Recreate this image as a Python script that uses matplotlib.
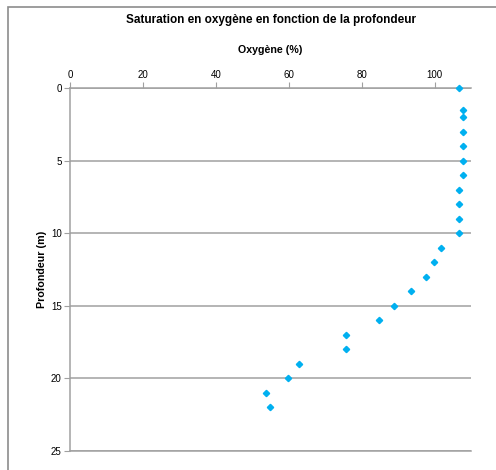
import matplotlib.pyplot as plt
from matplotlib.patches import Rectangle

# Données
profondeur = [0, 1.5, 2, 3, 4, 5, 6, 7, 8, 9, 10, 11, 12, 13, 14, 15, 16, 17, 18, 19, 20, 21, 22]
oxygene = [106.6, 107.7, 107.7, 107.7, 107.7, 107.7, 107.7, 106.6, 106.6, 106.6, 106.6,
           101.7, 99.8, 97.6, 93.6, 88.8, 84.7, 75.8, 75.8, 62.8, 59.8, 53.9, 54.8]
x_ticks = [0, 20, 40, 60, 80, 100]
y_ticks = [0, 5, 10, 15, 20, 25]

plt.rcParams['font.family'] = ['Liberation Sans', 'DejaVu Sans']
gris = '#a0a0a0'

W, H = 496, 470
fig = plt.figure(figsize=(W / 100, H / 100), dpi=100)
ax = fig.add_axes([70 / W, 1 - 451 / H, (471 - 70) / W, (451 - 88) / H])

ax.plot(oxygene, profondeur, linestyle='none', marker='D', markersize=3.2,
        color='#00b0f0', clip_on=False, zorder=3)

ax.set_xlim(0, 110)
ax.set_ylim(25, 0)
ax.set_xticks(x_ticks)
ax.set_yticks(y_ticks)
ax.xaxis.tick_top()
ax.xaxis.set_label_position('top')
ax.tick_params(axis='both', labelsize=7, color=gris, length=4, width=0.8, pad=2)

ax.yaxis.grid(True, color=gris, linewidth=1.1)
ax.set_axisbelow(True)
ax.spines['right'].set_visible(False)
for s in ['left', 'top', 'bottom']:
    ax.spines[s].set_color(gris)
    ax.spines[s].set_linewidth(1.1)

ax.set_xlabel("Oxygène (%)", fontsize=7.7, fontweight='bold', labelpad=12)
ax.set_ylabel("Profondeur (m)", fontsize=7.7, fontweight='bold')
ax.yaxis.set_label_coords((47 - 70) / (471 - 70), 0.5)
fig.text((70 + 471) / 2 / W, 1 - 20 / H, "Saturation en oxygène en fonction de la profondeur",
         ha='center', va='center', fontsize=8.5, fontweight='bold')

# cadre du graphique (haut et gauche visibles)
fig.patches.append(Rectangle((7.5 / W, -0.1), 1.2, 1 - 6.5 / H + 0.1, transform=fig.transFigure,
                             fill=False, edgecolor='#8c8c8c', linewidth=1.2))

fig.savefig("out.png", dpi=100)
